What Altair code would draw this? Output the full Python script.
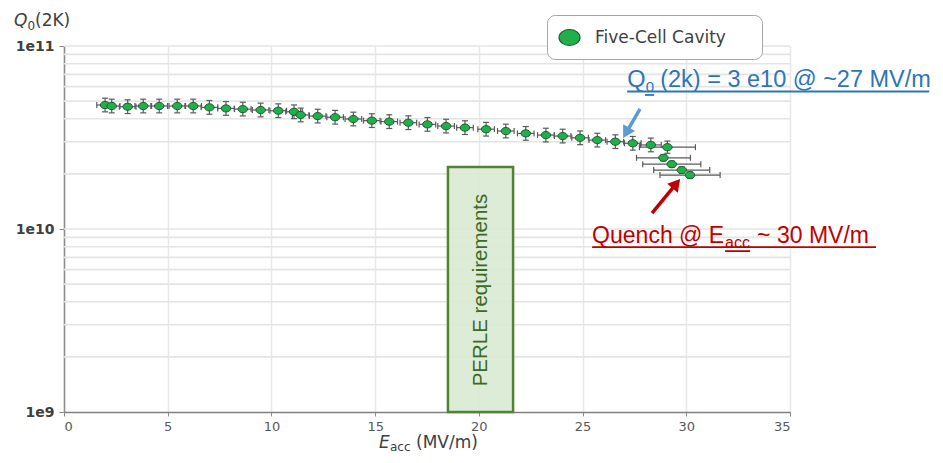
import altair as alt
import pandas as pd

# ---------------- data ----------------
SERIES = "Five-Cell Cavity"
E_ACC = [1.98, 2.30, 3.07, 3.82, 4.59, 5.46, 6.23, 7.01, 7.81, 8.62, 9.48, 10.33, 11.09,
         11.41, 12.23, 13.07, 13.95, 14.84, 15.68, 16.60, 17.52, 18.42, 19.33, 20.35,
         21.30, 22.26, 23.23, 24.04, 24.88, 25.71, 26.58, 27.42, 28.29, 29.09, 28.90,
         29.30, 29.78, 30.18]
Q0_E10 = [4.76, 4.70, 4.66, 4.70, 4.70, 4.70, 4.70, 4.62, 4.56, 4.52, 4.47, 4.43, 4.37,
          4.20, 4.14, 4.08, 3.99, 3.91, 3.86, 3.81, 3.73, 3.65, 3.58, 3.51, 3.43, 3.33,
          3.26, 3.22, 3.15, 3.06, 3.00, 2.94, 2.88, 2.80, 2.45, 2.26, 2.10, 1.97]
Q0_ERR_PCT = [9, 9, 9, 9, 9, 9, 9, 9, 9, 9, 9, 9, 9, 9, 9, 9, 9, 9, 9, 9, 9, 9, 9, 9,
              9, 9, 9, 9, 9, 9, 9, 9, 9, 8, 4, 4, 4, 4]
E_ERR = [0.4, 0.4, 0.4, 0.4, 0.4, 0.4, 0.4, 0.4, 0.4, 0.4, 0.4, 0.4, 0.4, 0.4, 0.4,
         0.4, 0.4, 0.4, 0.4, 0.4, 0.4, 0.4, 0.4, 0.4, 0.4, 0.4, 0.4, 0.4, 0.4, 0.4,
         0.4, 0.4, 0.5, 1.35, 1.3, 1.4, 1.35, 1.45]

X_TICKS = [0, 5, 10, 15, 20, 25, 30, 35]
Y_TICKS = [1e9, 1e10, 1e11]
GRID_Q = [2e9, 3e9, 4e9, 5e9, 6e9, 7e9, 8e9, 9e9, 1e10,
          2e10, 3e10, 4e10, 5e10, 6e10, 7e10, 8e10, 9e10, 1e11]

PERLE_E = [18.51, 21.65]
PERLE_Q = [1e9, 2.18e10]
PERLE_LABEL = "PERLE requirements"
PERLE_LABEL_AT = [20.11, 4.64e9]

BLUE_TEXT = ["Q", "0", "(2k) = 3 e10 @ ~27 MV/m"]
BLUE_AT = [27.15, 5.97e10]
BLUE_ULINE_E = [27.15, 41.71]
BLUE_ULINE_Q = 5.64e10
BLUE_SUB_ULINE_E = [28.01, 28.45]
BLUE_SUB_ULINE_Q = 5.40e10
BLUE_ARROW_E = [27.77, 27.10]
BLUE_ARROW_Q = [4.53e10, 3.353e10]

RED_TEXT = ["Quench @ E", "acc", "~ 30 MV/m"]
RED_AT = [25.46, 8.37e9]
RED_ULINE_E = [25.46, 39.15]
RED_ULINE_Q = 7.96e9
RED_SUB_ULINE_E = [31.87, 33.08]
RED_SUB_ULINE_Q = 7.57e9
RED_ARROW_E = [28.35, 29.52]
RED_ARROW_Q = [1.222e10, 1.769e10]

X_TITLE = ["E", "acc", "(MV/m)"]
Y_TITLE = ["Q", "0", "(2K)"]

# ---------------- styles ----------------
GREEN = "#1fb04b"
GREEN_EDGE = "#1d5e2d"
ERR = "#5a5a5a"
BLUE = "#2e75b6"
BLUE_ARROW = "#5b9bd5"
RED = "#c00000"
ELLIPSE = "M -1 0 A 1 0.76 0 1 0 1 0 A 1 0.76 0 1 0 -1 0 Z"
PAD = "\u2800"  # blank glyph used to widen the legend box

df = pd.DataFrame({"E": E_ACC, "Q": [q * 1e10 for q in Q0_E10],
                   "ep": Q0_ERR_PCT, "ex": E_ERR})
df["q_lo"] = df["Q"] / (1 + df["ep"] / 100)
df["q_hi"] = df["Q"] * (1 + df["ep"] / 100)
df["e_lo"] = df["E"] - df["ex"]
df["e_hi"] = df["E"] + df["ex"]
df["series"] = SERIES

xs = alt.Scale(domain=[0, 35], nice=False, zero=False)
ys = alt.Scale(type="log", domain=[1e9, 1e11], nice=False)
xax = alt.Axis(values=X_TICKS, title=None, grid=True, gridColor="#e8e8e8", gridWidth=1.5,
               labelFont="DejaVu Sans", labelFontSize=13, labelColor="#595959",
               labelPadding=4, tickColor="#8c8c8c", tickSize=4, domainColor="#808080",
               domainWidth=1.5)
yax = alt.Axis(values=Y_TICKS, title=None, grid=False,
               labelExpr="'1e' + round(log(datum.value) / LN10)",
               labelFont="DejaVu Sans", labelFontWeight="bold", labelFontSize=14,
               labelColor="#404040", labelPadding=5, tickColor="#8c8c8c", tickSize=5,
               domainColor="#8c8c8c", domainWidth=1.5)


def X(f):
    return alt.X(f, type="quantitative", scale=xs, axis=xax)


def Y(f):
    return alt.Y(f, type="quantitative", scale=ys, axis=yax)


layers = []

# horizontal log grid
layers.append(alt.Chart(pd.DataFrame({"g": GRID_Q})).mark_rule(
    color="#e4e4e4", strokeWidth=1.6).encode(y=Y("g")))

# PERLE box
perle = pd.DataFrame({"x1": [PERLE_E[0]], "x2": [PERLE_E[1]],
                      "y1": [PERLE_Q[0]], "y2": [PERLE_Q[1]]})
layers.append(alt.Chart(perle).mark_rect(
    fill="#d9ead3", fillOpacity=0.9, stroke="#548235", strokeWidth=2.5).encode(
    x=X("x1"), x2="x2", y=Y("y1"), y2="y2"))
layers.append(alt.Chart(pd.DataFrame({"x": [PERLE_LABEL_AT[0]], "y": [PERLE_LABEL_AT[1]],
                                      "t": [PERLE_LABEL]})).mark_text(
    angle=270, font="Liberation Sans", fontSize=20.5, color="#3b6a26",
    align="center", baseline="middle").encode(x=X("x"), y=Y("y"), text="t:N"))

# error bars
base = alt.Chart(df)
layers.append(base.mark_rule(color=ERR, strokeWidth=1.2).encode(
    x=X("E"), y=Y("q_lo"), y2="q_hi"))
layers.append(base.mark_tick(orient="horizontal", size=6, thickness=1.2, color=ERR,
                             opacity=1).encode(x=X("E"), y=Y("q_lo")))
layers.append(base.mark_tick(orient="horizontal", size=6, thickness=1.2, color=ERR,
                             opacity=1).encode(x=X("E"), y=Y("q_hi")))
layers.append(base.mark_rule(color=ERR, strokeWidth=1.2).encode(
    x=X("e_lo"), x2="e_hi", y=Y("Q")))
layers.append(base.mark_tick(orient="vertical", size=6, thickness=1.2, color=ERR,
                             opacity=1).encode(x=X("e_lo"), y=Y("Q")))
layers.append(base.mark_tick(orient="vertical", size=6, thickness=1.2, color=ERR,
                             opacity=1).encode(x=X("e_hi"), y=Y("Q")))

# points
layers.append(base.mark_point(filled=True, shape=ELLIPSE, size=90, stroke=GREEN_EDGE,
                              strokeWidth=1, opacity=1).encode(
    x=X("E"), y=Y("Q"),
    color=alt.Color("series:N", scale=alt.Scale(domain=[SERIES], range=[GREEN]),
                    legend=alt.Legend(
                        title=None, orient="none", legendX=483, legendY=-31,
                        symbolType=ELLIPSE, symbolSize=441,
                        symbolStrokeColor=GREEN_EDGE, symbolStrokeWidth=1.2,
                        labelFont="DejaVu Sans", labelFontSize=17, labelColor="#404040",
                        labelOffset=14, padding=11, strokeColor="#a6a6a6",
                        fillColor="white", cornerRadius=8, labelLimit=400,
                        labelExpr="datum.label + '" + PAD * 2 + "'"))))

# arrows
for ae, aq, col, ang in [(BLUE_ARROW_E, BLUE_ARROW_Q, BLUE_ARROW, 210),
                         (RED_ARROW_E, RED_ARROW_Q, RED, 40)]:
    adf = pd.DataFrame({"E": ae, "Q": aq, "o": [0, 1]})
    layers.append(alt.Chart(adf).mark_line(color=col, strokeWidth=3.5).encode(
        x=X("E"), y=Y("Q"), order="o:Q"))
    layers.append(alt.Chart(adf.iloc[[1]]).mark_point(
        shape="triangle-up", filled=True, size=190, angle=ang, color=col,
        opacity=1).encode(x=X("E"), y=Y("Q")))


def text_piece(at, txt, col, size, dx, dy=0, style="normal"):
    d = pd.DataFrame({"x": [at[0]], "y": [at[1]], "t": [txt]})
    return alt.Chart(d).mark_text(font="Liberation Sans", fontSize=size, color=col,
                                  align="left", baseline="alphabetic", dx=dx, dy=dy,
                                  fontStyle=style).encode(x=X("x"), y=Y("y"), text="t:N")


def uline(es, q, col, w):
    d = pd.DataFrame({"x1": [es[0]], "x2": [es[1]], "y": [q]})
    return alt.Chart(d).mark_rule(color=col, strokeWidth=w).encode(
        x=X("x1"), x2="x2", y=Y("y"))


layers += [text_piece(BLUE_AT, BLUE_TEXT[0], BLUE, 23.5, 0),
           text_piece(BLUE_AT, BLUE_TEXT[1], BLUE, 15, 18.5, 5),
           text_piece(BLUE_AT, BLUE_TEXT[2], BLUE, 23.5, 33),
           uline(BLUE_ULINE_E, BLUE_ULINE_Q, BLUE, 1.8),
           uline(BLUE_SUB_ULINE_E, BLUE_SUB_ULINE_Q, BLUE, 1.8)]
layers += [text_piece(RED_AT, RED_TEXT[0], RED, 23, 0),
           text_piece(RED_AT, RED_TEXT[1], RED, 16, 133, 5),
           text_piece(RED_AT, RED_TEXT[2], RED, 23, 165),
           uline(RED_ULINE_E, RED_ULINE_Q, RED, 1.8),
           uline(RED_SUB_ULINE_E, RED_SUB_ULINE_Q, RED, 1.8)]


def title_piece(txt, px, py, size, style="normal", dy=0):
    d = pd.DataFrame({"t": [txt]})
    return alt.Chart(d).mark_text(font="DejaVu Sans", fontSize=size, color="#404040",
                                  align="left", baseline="alphabetic", fontStyle=style,
                                  dy=dy).encode(text="t:N", x=alt.value(px), y=alt.value(py))


layers += [title_piece(X_TITLE[0], 315, 402, 17, "italic"),
           title_piece(X_TITLE[1], 326, 402, 12, dy=3),
           title_piece(X_TITLE[2], 352, 402, 17),
           title_piece(Y_TITLE[0], -50, -20, 17, "italic"),
           title_piece(Y_TITLE[1], -36.5, -20, 12, dy=4),
           title_piece(Y_TITLE[2], -29, -20, 17)]

chart = alt.layer(*layers).properties(
    width=726, height=366,
    padding={"left": 56, "top": 38, "right": 145, "bottom": 43},
    autosize=alt.AutoSizeParams(type="none"),
).configure_view(strokeWidth=0)

chart.save("out.html", embed_options={"renderer": "svg", "actions": False})
